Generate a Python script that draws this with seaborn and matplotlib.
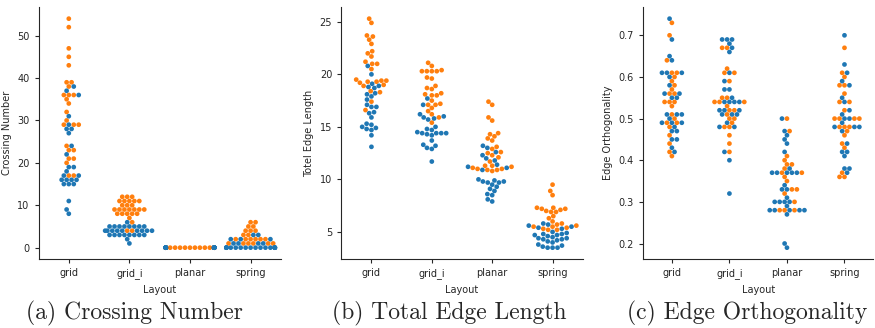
import matplotlib
matplotlib.use("Agg")
import matplotlib.pyplot as plt
import seaborn as sns
import pandas as pd
import warnings

warnings.filterwarnings("ignore")

layouts = ["grid", "grid_i", "planar", "spring"]
groups = ["small", "large"]  # blue, orange

# Crossing number
cn_small = {
    "grid": [38, 37, 36, 31, 29, 28, 28, 27, 24, 22, 19, 19, 18, 17, 17, 16, 16, 16, 16, 15, 15, 15, 11, 9, 8],
    "grid_i": [6] + [5] * 8 + [4] * 9 + [3] * 8 + [2, 1],
    "planar": [0] * 25,
    "spring": [0] * 18 + [1] * 4 + [2] * 3 + [3] * 2,
}
cn_large = {
    "grid": [54, 52, 47, 45, 43, 39, 39, 38, 36, 36, 36, 35, 34, 32, 30, 29, 29, 29, 24, 23, 23, 21, 21, 20, 17, 17],
    "grid_i": [12] * 3 + [11] * 5 + [10] * 3 + [9] * 7 + [8] * 5 + [7, 6, 4, 4],
    "planar": [0] * 25,
    "spring": [1] * 6 + [2] * 6 + [3] * 2 + [4] * 3 + [5] * 2 + [6] * 2,
}

# Total edge length
tel_small = {
    "grid": [20.8, 20.0, 19.1, 18.9, 18.8, 18.7, 18.2, 18.1, 17.9, 17.6, 17.1, 16.9, 16.9, 16.4, 16.3, 15.9,
             15.3, 15.2, 15.0, 14.9, 14.8, 14.7, 14.2, 13.1],
    "grid_i": [17.7, 17.1, 16.2, 16.0, 15.9, 15.8, 15.7, 15.0, 14.8, 14.7, 14.5, 14.4, 14.4, 14.4, 14.4, 14.3,
               14.2, 13.7, 13.3, 13.2, 13.0, 12.9, 11.7],
    "planar": [13.2, 13.0, 12.6, 12.3, 12.0, 11.8, 11.4, 11.2, 11.1, 10.9, 10.0, 9.9, 9.8, 9.8, 9.7, 9.7,
               9.5, 9.3, 9.1, 8.9, 8.6, 8.5, 8.1, 7.9],
    "spring": [5.8, 5.7, 5.6, 5.5, 5.4, 5.3, 5.0, 4.9, 4.8, 4.8, 4.7, 4.7, 4.6, 4.5, 4.4, 4.4, 4.3, 4.3,
               4.2, 4.1, 4.0, 3.8, 3.7, 3.6, 3.5, 3.5, 3.5],
}
tel_large = {
    "grid": [25.3, 24.9, 23.7, 23.6, 23.3, 22.9, 22.2, 22.0, 21.7, 21.2, 21.0, 21.0, 20.5, 19.5, 19.4, 19.4,
             19.3, 19.3, 19.2, 19.0, 18.9, 18.4, 18.3, 17.4, 16.6],
    "grid_i": [21.1, 20.8, 20.4, 20.3, 20.3, 20.3, 20.3, 19.7, 19.6, 18.9, 18.7, 18.6, 18.2, 18.1, 18.0, 18.0,
               17.5, 17.2, 17.1, 17.1, 16.8, 16.5, 16.2, 15.9, 15.4],
    "planar": [17.4, 17.1, 15.9, 15.6, 14.4, 14.3, 14.1, 13.9, 13.7, 13.1, 12.9, 12.6, 12.5, 12.3, 12.1, 11.7,
               11.3, 11.3, 11.2, 11.1, 11.0, 11.0, 10.9, 10.9, 10.8],
    "spring": [9.5, 8.9, 8.5, 7.3, 7.3, 7.2, 7.2, 7.1, 7.0, 6.9, 6.9, 6.5, 6.3, 6.0, 5.8, 5.7, 5.6, 5.5,
               5.5, 5.4, 5.3, 5.2, 5.2],
}

# Edge orthogonality
eo_small = {
    "grid": [0.74, 0.69, 0.65, 0.64, 0.61, 0.61, 0.61, 0.60, 0.58, 0.56, 0.56, 0.55, 0.55, 0.51, 0.51, 0.51,
             0.50, 0.49, 0.49, 0.49, 0.48, 0.47, 0.47, 0.45, 0.45, 0.43, 0.42],
    "grid_i": [0.69, 0.69, 0.69, 0.68, 0.67, 0.66, 0.61, 0.59, 0.57, 0.57, 0.55, 0.54, 0.54, 0.54, 0.54, 0.52,
               0.52, 0.52, 0.51, 0.51, 0.51, 0.49, 0.48, 0.48, 0.42, 0.40, 0.32],
    "planar": [0.50, 0.47, 0.46, 0.45, 0.44, 0.42, 0.38, 0.37, 0.37, 0.37, 0.37, 0.37, 0.34, 0.33, 0.33, 0.31,
               0.30, 0.30, 0.30, 0.30, 0.29, 0.28, 0.28, 0.28, 0.28, 0.28, 0.27, 0.20, 0.19],
    "spring": [0.70, 0.63, 0.61, 0.59, 0.58, 0.55, 0.54, 0.52, 0.51, 0.50, 0.50, 0.49, 0.48, 0.48, 0.48, 0.47,
               0.44, 0.42, 0.42, 0.41, 0.38, 0.38, 0.37],
}
eo_large = {
    "grid": [0.73, 0.70, 0.64, 0.61, 0.61, 0.60, 0.59, 0.58, 0.57, 0.56, 0.56, 0.54, 0.54, 0.54, 0.53, 0.51,
             0.50, 0.49, 0.49, 0.48, 0.46, 0.44, 0.42, 0.41],
    "grid_i": [0.67, 0.67, 0.62, 0.61, 0.61, 0.59, 0.55, 0.55, 0.54, 0.54, 0.54, 0.53, 0.52, 0.52, 0.51, 0.50,
               0.50, 0.49, 0.48, 0.48, 0.46, 0.44, 0.42],
    "planar": [0.50, 0.47, 0.41, 0.40, 0.39, 0.39, 0.38, 0.37, 0.37, 0.36, 0.35, 0.33, 0.33, 0.32, 0.30, 0.28,
               0.28, 0.28],
    "spring": [0.67, 0.61, 0.60, 0.58, 0.58, 0.56, 0.54, 0.54, 0.52, 0.50, 0.50, 0.50, 0.50, 0.48, 0.48, 0.48,
               0.47, 0.46, 0.44, 0.43, 0.37, 0.36, 0.36],
}

panels = [
    ("Crossing Number", cn_small, cn_large, "(a) Crossing Number"),
    ("Totel Edge Length", tel_small, tel_large, "(b) Total Edge Length"),
    ("Edge Orthogonality", eo_small, eo_large, "(c) Edge Orthogonality"),
]


def to_frame(small, large, name):
    rows = []
    for lay in layouts:
        for v in large[lay]:
            rows.append({"Layout": lay, "group": "large", name: v})
        for v in small[lay]:
            rows.append({"Layout": lay, "group": "small", name: v})
    return pd.DataFrame(rows)


sns.set_style("ticks")
fig = plt.figure(figsize=(8.75, 3.28), dpi=100)

lefts = [0.044, 0.39, 0.735]
widths = [0.277, 0.276, 0.263]
caption_x = [0.154, 0.513, 0.854]

for i, (name, small, large, caption) in enumerate(panels):
    df = to_frame(small, large, name)
    ax = fig.add_axes([lefts[i], 0.21, widths[i], 0.768])
    sns.swarmplot(data=df, x="Layout", y=name, hue="group", hue_order=groups,
                  order=layouts, size=3.4, palette=["#1f77b4", "#ff7f0e"],
                  legend=False, ax=ax)
    ax.set_xlabel("Layout", fontsize=7)
    ax.set_ylabel(name, fontsize=7)
    ax.tick_params(labelsize=7, length=3)
    sns.despine(ax=ax)
    fig.text(caption_x[i], 0.045, caption, ha="center", va="center",
             fontsize=17, family="cmr10")

plt.savefig("out.png", dpi=100)
